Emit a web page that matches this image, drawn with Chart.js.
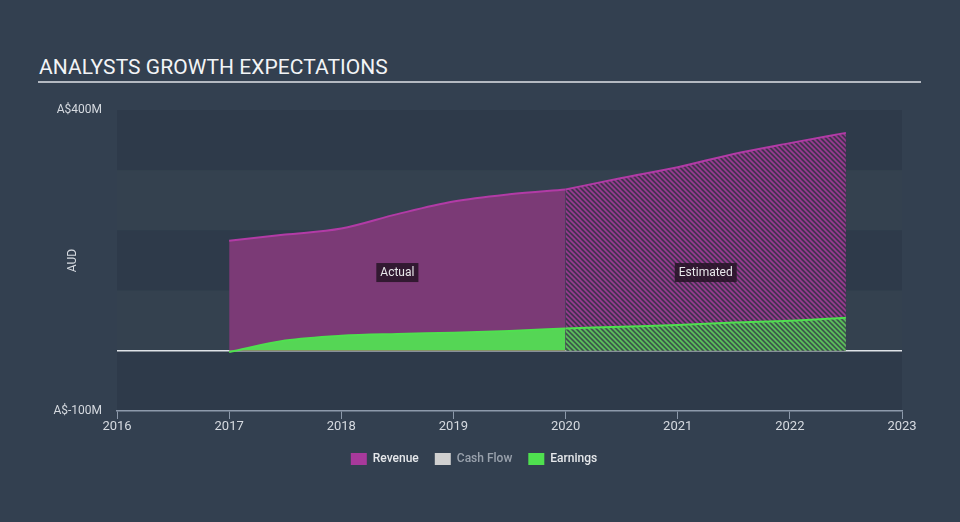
<!DOCTYPE html>
<html>
<head>
<meta charset="utf-8">
<script src="https://cdn.jsdelivr.net/npm/chart.js@4/dist/chart.umd.min.js"></script>
<style>
  html, body { margin: 0; padding: 0; }
  body {
    width: 960px; height: 522px; overflow: hidden; position: relative;
    background: #334050;
    font-family: Roboto, 'Noto Sans', sans-serif;
  }
  #title {
    position: absolute; left: 39px; top: 55px;
    font-size: 21px; color: #f2f4f6; letter-spacing: 0.05px;
  }
  #rule {
    position: absolute; left: 38px; top: 81px; width: 883px; height: 2px;
    background: #b4b9c1;
  }
  #chart { position: absolute; left: 0; top: 0; }
</style>
</head>
<body>
<div id="title">ANALYSTS GROWTH EXPECTATIONS</div>
<div id="rule"></div>
<canvas id="chart" width="960" height="522"></canvas>
<script>
// reading points (fiscal year, half-year steps)
const years = [2017, 2017.5, 2018, 2018.5, 2019, 2019.5, 2020, 2020.5, 2021, 2021.5, 2022, 2022.5];
const revenue = [183, 193, 203, 227, 248, 260, 268, 287, 305, 327, 345, 362];
const earnings = [-2, 17, 25, 28, 30, 33, 37, 40, 43, 47, 50, 55];
const lastActualYear = 2020;

const seriesNames = ['Revenue', 'Cash Flow', 'Earnings'];
const seriesColors = ['#a8399b', '#d0d0d0', '#4fe04f'];
const periodLabels = ['Actual', 'Estimated'];

const xTicks = [2016, 2017, 2018, 2019, 2020, 2021, 2022, 2023];
const yTickValues = [400, -100];
const yTickLabels = ['A$400M', 'A$-100M'];

function pts(values, from, to) {
  const out = [];
  years.forEach((yr, i) => {
    if (yr >= from && yr <= to) out.push({ x: yr, y: values[i] });
  });
  return out;
}

function hatch(bg, fg) {
  const s = 5;
  const c = document.createElement('canvas');
  c.width = s; c.height = s;
  const g = c.getContext('2d');
  g.fillStyle = bg;
  g.fillRect(0, 0, s, s);
  g.strokeStyle = fg;
  g.lineWidth = 1.6;
  g.beginPath();
  g.moveTo(0, 0); g.lineTo(s, s);
  g.moveTo(-1, s - 1); g.lineTo(1, s + 1);
  g.moveTo(s - 1, -1); g.lineTo(s + 1, 1);
  g.stroke();
  return g.createPattern(c, 'repeat');
}

const bands = {
  id: 'bands',
  beforeDraw(chart) {
    const { ctx, chartArea: a, scales: { y } } = chart;
    ctx.save();
    for (let v = 400; v > -100; v -= 100) {
      const top = y.getPixelForValue(v);
      const bot = y.getPixelForValue(v - 100);
      ctx.fillStyle = ((400 - v) / 100) % 2 === 0 ? '#2e3a4a' : '#34414f';
      ctx.fillRect(a.left, top, a.right - a.left, bot - top);
    }
    ctx.restore();
  }
};

const periodTags = {
  id: 'periodTags',
  afterDatasetsDraw(chart) {
    const { ctx, scales: { x, y } } = chart;
    const mids = [(years[0] + lastActualYear) / 2, (lastActualYear + years[years.length - 1]) / 2];
    ctx.save();
    ctx.font = '12px Roboto';
    ctx.textAlign = 'center';
    ctx.textBaseline = 'middle';
    periodLabels.forEach((t, i) => {
      const px = x.getPixelForValue(mids[i]);
      const py = y.getPixelForValue(130);
      const w = ctx.measureText(t).width + 8;
      ctx.fillStyle = 'rgba(38, 20, 38, 0.85)';
      ctx.fillRect(px - w / 2, py - 9.5, w, 19);
      ctx.fillStyle = '#e8e8ea';
      ctx.fillText(t, px, py + 0.5);
    });
    ctx.restore();
  }
};

new Chart(document.getElementById('chart'), {
  type: 'line',
  data: {
    datasets: [
      {
        label: 'Earnings',
        data: pts(earnings, 2017, lastActualYear),
        borderColor: '#4fe04f',
        backgroundColor: '#55d655',
        fill: { target: 'origin', above: '#55d655', below: '#e04646' },
        borderWidth: 2,
        order: 1,
      },
      {
        label: 'Earnings est',
        data: pts(earnings, lastActualYear, 2100),
        borderColor: '#4fe04f',
        backgroundColor: hatch('#3e5a4c', '#5cc45c'),
        fill: 'origin',
        borderWidth: 2,
        order: 1,
      },
      {
        label: 'Revenue',
        data: pts(revenue, 2017, lastActualYear),
        borderColor: '#b23ba6',
        backgroundColor: '#7b3a76',
        fill: 'origin',
        borderWidth: 2,
        order: 2,
      },
      {
        label: 'Revenue est',
        data: pts(revenue, lastActualYear, 2100),
        borderColor: '#b23ba6',
        backgroundColor: hatch('#433350', '#9a3b92'),
        fill: 'origin',
        borderWidth: 2,
        order: 2,
      },
    ],
  },
  options: {
    responsive: false,
    animation: false,
    events: [],
    layout: { padding: { left: 46, right: 58, top: 110, bottom: 47 } },
    elements: {
      point: { radius: 0 },
      line: { tension: 0, cubicInterpolationMode: 'monotone' },
    },
    plugins: {
      tooltip: { enabled: false },
      legend: {
        position: 'bottom',
        onClick: null,
        labels: {
          boxWidth: 16,
          boxHeight: 12,
          padding: 16,
          font: { family: 'Roboto', size: 12, weight: '500' },
          generateLabels: () => seriesNames.map((n, i) => ({
            text: n,
            fillStyle: seriesColors[i],
            strokeStyle: seriesColors[i],
            lineWidth: 0,
            hidden: false,
            fontColor: n === 'Cash Flow' ? '#9aa2ad' : '#e6e8eb',
          })),
        },
      },
    },
    scales: {
      x: {
        type: 'linear',
        min: xTicks[0],
        max: xTicks[xTicks.length - 1],
        afterBuildTicks: s => { s.ticks = xTicks.map(v => ({ value: v })); },
        afterFit: s => { s.height = 26; },
        border: { color: '#8d9aab', width: 1.5 },
        grid: { drawOnChartArea: false, tickLength: 8, color: '#8d9aab' },
        ticks: {
          padding: 0,
          color: '#d6dae0',
          font: { family: 'Roboto', size: 13 },
          maxRotation: 0,
          callback: v => String(v),
        },
      },
      y: {
        min: -100,
        max: 400,
        afterBuildTicks: s => { s.ticks = [400, 300, 200, 100, 0, -100].map(v => ({ value: v })); },
        afterFit: s => { s.width = 71; },
        border: { display: false },
        grid: {
          drawTicks: false,
          color: c => (c.tick && c.tick.value === 0 ? '#dfe3e8' : 'rgba(0,0,0,0)'),
          lineWidth: 1.5,
        },
        ticks: {
          padding: 15,
          color: '#d6dae0',
          font: { family: 'Roboto', size: 12 },
          callback: v => {
            const i = yTickValues.indexOf(v);
            return i >= 0 ? yTickLabels[i] : '';
          },
        },
        title: {
          display: true,
          text: 'AUD',
          color: '#d6dae0',
          font: { family: 'Roboto', size: 12 },
          padding: { top: 20, bottom: 0 },
        },
      },
    },
  },
  plugins: [bands, periodTags],
});
</script>
</body>
</html>
